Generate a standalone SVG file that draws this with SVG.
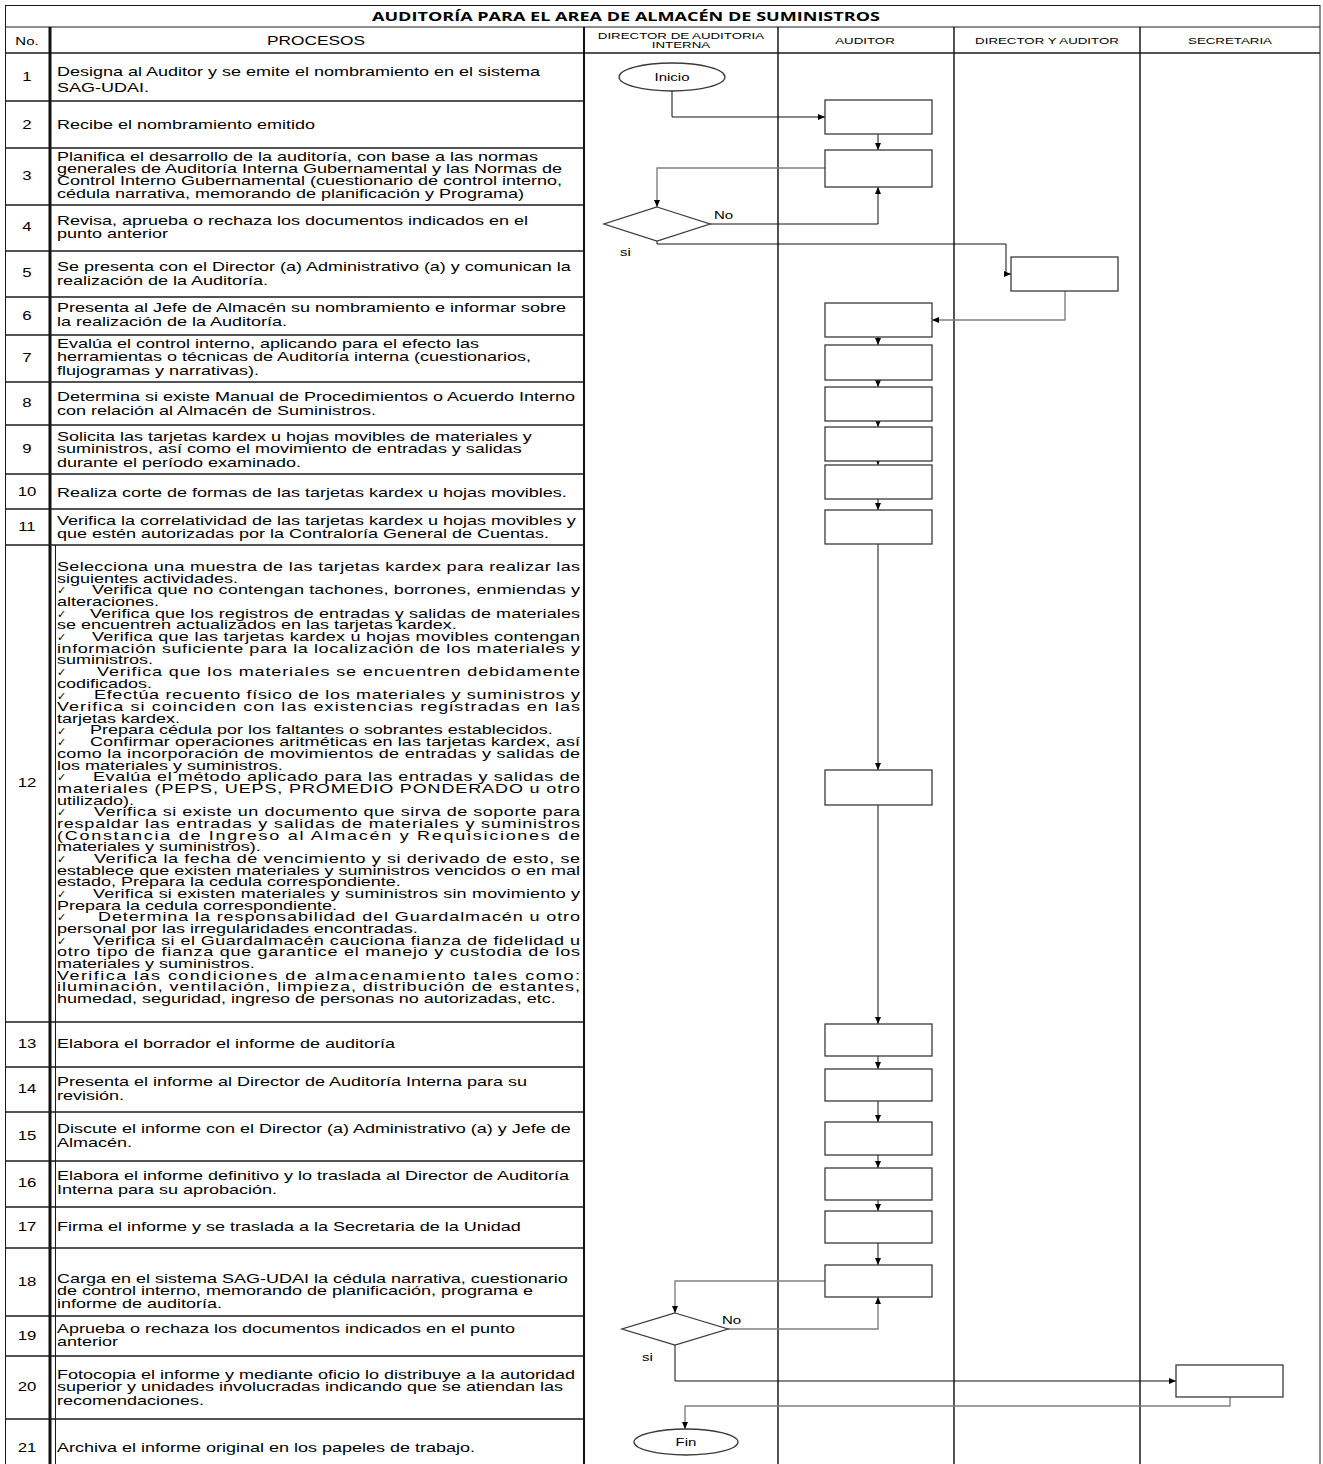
<svg xmlns="http://www.w3.org/2000/svg" width="1323" height="1464" viewBox="0 0 1323 1464">
  <style>
    .tx { font-family: "Liberation Sans", Arial, sans-serif; fill: #000; }
    .ttl { font-family: "Open Sans", "Liberation Sans", sans-serif; font-weight: 700; font-size: 13px; fill: #000; }
    .ck { font-family: "DejaVu Sans", "Noto Sans", sans-serif; font-size: 11px; fill: #000; }
    .mid { text-anchor: middle; }
    .grid { stroke: #1a1a1a; stroke-width: 1.5; fill: none; }
    .thin { stroke: #1a1a1a; stroke-width: 1; fill: none; }
    .box { fill: #fff; stroke: #3a3a3a; stroke-width: 1.3; }
    .cn { fill: none; stroke: #111; stroke-width: 1; }
    .cl { fill: none; stroke: #808080; stroke-width: 1.4; }
  </style>
  <defs>
    <marker id="ar" markerWidth="7" markerHeight="6" refX="7" refY="3" orient="auto" markerUnits="userSpaceOnUse">
      <path d="M0,0 L7,3 L0,6 z" fill="#000"/>
    </marker>
  </defs>

  <rect width="1323" height="1464" fill="#fff"/>

  <!-- table frame -->
  <g id="table">
    <rect x="5.5" y="5.5" width="1314.5" height="1470" class="thin"/>
    <line x1="5" y1="27" x2="1320" y2="27" class="thin"/>
    <line x1="5" y1="53" x2="1320" y2="53" class="grid"/>
    <!-- column separators -->
    <line x1="50" y1="27" x2="50" y2="1464" stroke="#111" stroke-width="3"/>
    <line x1="55.5" y1="545" x2="55.5" y2="1464" class="thin"/>
    <line x1="584" y1="27" x2="584" y2="1464" stroke="#111" stroke-width="2"/>
    <line x1="778" y1="27" x2="778" y2="1464" class="grid"/>
    <line x1="954" y1="27" x2="954" y2="1464" class="grid"/>
    <line x1="1140" y1="27" x2="1140" y2="1464" class="grid"/>
    <!-- row separators -->
    <g class="grid">
      <line x1="5" y1="101" x2="584" y2="101"/>
      <line x1="5" y1="148" x2="584" y2="148"/>
      <line x1="5" y1="205" x2="584" y2="205"/>
      <line x1="5" y1="251" x2="584" y2="251"/>
      <line x1="5" y1="297" x2="584" y2="297"/>
      <line x1="5" y1="335" x2="584" y2="335"/>
      <line x1="5" y1="382" x2="584" y2="382"/>
      <line x1="5" y1="425" x2="584" y2="425"/>
      <line x1="5" y1="474" x2="584" y2="474"/>
      <line x1="5" y1="509" x2="584" y2="509"/>
      <line x1="5" y1="545" x2="584" y2="545"/>
      <line x1="5" y1="1022" x2="584" y2="1022"/>
      <line x1="5" y1="1067" x2="584" y2="1067"/>
      <line x1="5" y1="1112" x2="584" y2="1112"/>
      <line x1="5" y1="1161" x2="584" y2="1161"/>
      <line x1="5" y1="1207" x2="584" y2="1207"/>
      <line x1="5" y1="1248" x2="584" y2="1248"/>
      <line x1="5" y1="1316" x2="584" y2="1316"/>
      <line x1="5" y1="1356" x2="584" y2="1356"/>
      <line x1="5" y1="1419" x2="584" y2="1419"/>
    </g>
  </g>

  <!-- title and column headers -->
  <g id="headers">
    <text class="ttl mid" x="626" y="21" textLength="508" lengthAdjust="spacingAndGlyphs">AUDITORÍA PARA EL AREA DE ALMACÉN DE SUMINISTROS</text>
    <g class="tx mid" font-size="11.5" transform="scale(1.3 1)">
      <text x="20.77" y="45">No.</text>
    </g>
    <g class="tx mid" font-size="12.5" transform="scale(1.385 1)">
      <text x="228.16" y="45">PROCESOS</text>
    </g>
    <g class="tx mid" font-size="9.5" transform="scale(1.4 1)">
      <text x="486.43" y="39">DIRECTOR DE AUDITORIA</text>
      <text x="486.43" y="48">INTERNA</text>
      <text x="617.86" y="44">AUDITOR</text>
      <text x="747.86" y="44">DIRECTOR Y AUDITOR</text>
      <text x="878.57" y="44">SECRETARIA</text>
    </g>
  </g>

  <!-- step numbers -->
  <g id="numbers" class="tx mid" font-size="12" transform="scale(1.4 1)">
    <text x="19.29" y="81">1</text>
    <text x="19.29" y="129">2</text>
    <text x="19.29" y="180">3</text>
    <text x="19.29" y="231">4</text>
    <text x="19.29" y="277">5</text>
    <text x="19.29" y="320">6</text>
    <text x="19.29" y="362">7</text>
    <text x="19.29" y="407">8</text>
    <text x="19.29" y="453">9</text>
    <text x="19.29" y="496">10</text>
    <text x="19.29" y="531">11</text>
    <text x="19.29" y="787">12</text>
    <text x="19.29" y="1048">13</text>
    <text x="19.29" y="1093">14</text>
    <text x="19.29" y="1140">15</text>
    <text x="19.29" y="1187">16</text>
    <text x="19.29" y="1231">17</text>
    <text x="19.29" y="1286">18</text>
    <text x="19.29" y="1340">19</text>
    <text x="19.29" y="1391">20</text>
    <text x="19.29" y="1452">21</text>
  </g>

  <!-- process descriptions -->
  <g id="procesos" class="tx" font-size="13" transform="scale(1.385 1)">
    <text x="41.16" y="76">Designa al Auditor y se emite el nombramiento en el sistema</text>
    <text x="41.16" y="92">SAG-UDAI.</text>
    <text x="41.16" y="129.5">Recibe el nombramiento emitido</text>
    <text x="41.16" y="161">Planifica el desarrollo de la auditoría, con base a las normas</text>
    <text x="41.16" y="173">generales de Auditoría Interna Gubernamental y las Normas de</text>
    <text x="41.16" y="185">Control Interno Gubernamental (cuestionario de control interno,</text>
    <text x="41.16" y="198">cédula narrativa, memorando de planificación y Programa)</text>
    <text x="41.16" y="225.5">Revisa,  aprueba o rechaza los documentos indicados en el</text>
    <text x="41.16" y="238">punto anterior</text>
    <text x="41.16" y="271.5">Se presenta con el Director (a) Administrativo (a) y comunican la</text>
    <text x="41.16" y="285.5">realización de la Auditoría.</text>
    <text x="41.16" y="312.5">Presenta al Jefe de Almacén su nombramiento e informar sobre</text>
    <text x="41.16" y="326.5">la realización de la Auditoría.</text>
    <text x="41.16" y="348.5">Evalúa el control interno, aplicando para el efecto las</text>
    <text x="41.16" y="361.5">herramientas o técnicas de Auditoría interna (cuestionarios,</text>
    <text x="41.16" y="375.5">flujogramas y narrativas).</text>
    <text x="41.16" y="401.5">Determina si existe Manual de Procedimientos o Acuerdo Interno</text>
    <text x="41.16" y="415.5">con relación al Almacén de Suministros.</text>
    <text x="41.16" y="441.5">Solicita  las tarjetas kardex u hojas movibles de materiales y</text>
    <text x="41.16" y="453.5">suministros, así como el movimiento de entradas y salidas</text>
    <text x="41.16" y="467.5">durante el período examinado.</text>
    <text x="41.16" y="497.5">Realiza corte de formas de las tarjetas kardex u hojas movibles.</text>
    <text x="41.16" y="525.5">Verifica la correlatividad de las tarjetas kardex  u hojas movibles y</text>
    <text x="41.16" y="538.5">que estén autorizadas por la Contraloría General de Cuentas.</text>
    <text x="41.16" y="1048.5">Elabora el borrador el informe de auditoría</text>
    <text x="41.16" y="1086.5">Presenta el informe al  Director de Auditoría Interna para su</text>
    <text x="41.16" y="1100.5">revisión.</text>
    <text x="41.16" y="1133.5">Discute el informe con el Director (a) Administrativo (a) y Jefe de</text>
    <text x="41.16" y="1147.5">Almacén.</text>
    <text x="41.16" y="1180.5">Elabora el informe definitivo y lo traslada al Director de Auditoría</text>
    <text x="41.16" y="1194.5">Interna para su aprobación.</text>
    <text x="41.16" y="1231.5">Firma el informe y se traslada a la Secretaria de la Unidad</text>
    <text x="41.16" y="1283">Carga en el sistema SAG-UDAI la cédula narrativa, cuestionario</text>
    <text x="41.16" y="1295.5">de control interno, memorando de planificación, programa e</text>
    <text x="41.16" y="1308.5">informe de auditoría.</text>
    <text x="41.16" y="1333.5">Aprueba o rechaza los documentos indicados en el punto</text>
    <text x="41.16" y="1346.5">anterior</text>
    <text x="41.16" y="1379.5">Fotocopia el informe y mediante oficio lo distribuye a la autoridad</text>
    <text x="41.16" y="1391.5">superior y unidades involucradas indicando que se atiendan las</text>
    <text x="41.16" y="1405.5">recomendaciones.</text>
    <text x="41.16" y="1452.5">Archiva el informe original en los papeles de trabajo.</text>
  </g>

  <!-- step 12 checklist (justified) -->
  <g id="paso12">
    <g class="ck">
      <text x="57" y="594.4">✓</text>
      <text x="57" y="617.7">✓</text>
      <text x="57" y="641.1">✓</text>
      <text x="57" y="676.1">✓</text>
      <text x="57" y="699.5">✓</text>
      <text x="57" y="734.5">✓</text>
      <text x="57" y="746.2">✓</text>
      <text x="57" y="781.2">✓</text>
      <text x="57" y="816.3">✓</text>
      <text x="57" y="863.0">✓</text>
      <text x="57" y="898.0">✓</text>
      <text x="57" y="921.4">✓</text>
      <text x="57" y="944.8">✓</text>
    </g>
    <g class="tx" font-size="12" transform="scale(1.5 1)">
      <text x="38" y="571.0" textLength="348.67" lengthAdjust="spacing">Selecciona una muestra de las tarjetas kardex para realizar las</text>
      <text x="38" y="582.7">siguientes actividades.</text>
      <text x="61.33" y="594.4" textLength="325.33" lengthAdjust="spacing">Verifica que no contengan tachones, borrones, enmiendas y</text>
      <text x="38" y="606.0">alteraciones.</text>
      <text x="60" y="617.7" textLength="326.67" lengthAdjust="spacing">Verifica que los registros de entradas y salidas de materiales</text>
      <text x="38" y="629.4">se encuentren actualizados en las tarjetas kardex.</text>
      <text x="61.33" y="641.1" textLength="325.33" lengthAdjust="spacing">Verifica que las tarjetas kardex u hojas movibles contengan</text>
      <text x="38" y="652.8" textLength="348.67" lengthAdjust="spacing">información suficiente para la localización de los materiales y</text>
      <text x="38" y="664.4">suministros.</text>
      <text x="64.67" y="676.1" textLength="322" lengthAdjust="spacing">Verifica que los materiales se encuentren debidamente</text>
      <text x="38" y="687.8">codificados.</text>
      <text x="62.67" y="699.5" textLength="324" lengthAdjust="spacing">Efectúa recuento físico de los materiales y suministros y</text>
      <text x="38" y="711.2" textLength="348.67" lengthAdjust="spacing">Verifica si coinciden con las existencias registradas en las</text>
      <text x="38" y="722.8">tarjetas kardex.</text>
      <text x="60" y="734.5">Prepara cédula por los faltantes o sobrantes establecidos.</text>
      <text x="60" y="746.2" textLength="326.67" lengthAdjust="spacing">Confirmar operaciones aritméticas en las tarjetas kardex, así</text>
      <text x="38" y="757.9" textLength="348.67" lengthAdjust="spacing">como la incorporación de movimientos de entradas y salidas de</text>
      <text x="38" y="769.6">los materiales y suministros.</text>
      <text x="62" y="781.2" textLength="324.67" lengthAdjust="spacing">Evalúa el método aplicado para las entradas y salidas de</text>
      <text x="38" y="792.9" textLength="348.67" lengthAdjust="spacing">materiales (PEPS, UEPS, PROMEDIO PONDERADO u otro</text>
      <text x="38" y="804.6">utilizado).</text>
      <text x="62.67" y="816.3" textLength="324" lengthAdjust="spacing">Verifica si existe un documento que sirva de soporte para</text>
      <text x="38" y="828.0" textLength="348.67" lengthAdjust="spacing">respaldar las entradas y salidas de materiales y suministros</text>
      <text x="38" y="839.6" textLength="348.67" lengthAdjust="spacing">(Constancia de Ingreso al Almacén y Requisiciones de</text>
      <text x="38" y="851.3">materiales y suministros).</text>
      <text x="62.67" y="863.0" textLength="324" lengthAdjust="spacing">Verifica la fecha de vencimiento y si derivado de esto, se</text>
      <text x="38" y="874.7" textLength="348.67" lengthAdjust="spacing">establece que existen materiales y suministros vencidos o en mal</text>
      <text x="38" y="886.4">estado, Prepara la cedula correspondiente.</text>
      <text x="62" y="898.0" textLength="324.67" lengthAdjust="spacing">Verifica si existen materiales y suministros sin movimiento y</text>
      <text x="38" y="909.7">Prepara la cedula correspondiente.</text>
      <text x="65.33" y="921.4" textLength="321.33" lengthAdjust="spacing">Determina la responsabilidad del Guardalmacén u otro</text>
      <text x="38" y="933.1">personal por las irregularidades encontradas.</text>
      <text x="62" y="944.8" textLength="324.67" lengthAdjust="spacing">Verifica si el Guardalmacén cauciona fianza de fidelidad u</text>
      <text x="38" y="956.4" textLength="348.67" lengthAdjust="spacing">otro tipo de fianza que garantice el manejo y custodia de los</text>
      <text x="38" y="968.1">materiales y suministros.</text>
      <text x="38" y="979.8" textLength="348.67" lengthAdjust="spacing">Verifica las condiciones de almacenamiento tales como:</text>
      <text x="38" y="991.5" textLength="348.67" lengthAdjust="spacing">iluminación, ventilación, limpieza, distribución de estantes,</text>
      <text x="38" y="1003.2">humedad, seguridad, ingreso de personas no autorizadas, etc.</text>
    </g>
  </g>

  <!-- connectors -->
  <g id="connectors">
    <path class="cn" d="M672,91 V117 H825" marker-end="url(#ar)"/>
    <path class="cn" d="M878,134 V150" marker-end="url(#ar)"/>
    <path class="cl" d="M825,168 H657 V207" marker-end="url(#ar)"/>
    <path class="cn" d="M710,224 H878 V187" marker-end="url(#ar)"/>
    <path class="cn" d="M657,241 V244 H1006 V274 H1011" marker-end="url(#ar)"/>
    <path class="cl" d="M1065,291 V320 H932" marker-end="url(#ar)"/>
    <path class="cn" d="M878,337 V345" marker-end="url(#ar)"/>
    <path class="cn" d="M878,380 V387" marker-end="url(#ar)"/>
    <path class="cn" d="M878,421 V427" marker-end="url(#ar)"/>
    <path class="cn" d="M878,461 V465" marker-end="url(#ar)"/>
    <path class="cn" d="M878,499 V510" marker-end="url(#ar)"/>
    <path class="cn" d="M878,544 V770" marker-end="url(#ar)"/>
    <path class="cn" d="M878,805 V1024" marker-end="url(#ar)"/>
    <path class="cn" d="M878,1056 V1069" marker-end="url(#ar)"/>
    <path class="cn" d="M878,1101 V1122" marker-end="url(#ar)"/>
    <path class="cn" d="M878,1155 V1168" marker-end="url(#ar)"/>
    <path class="cn" d="M878,1200 V1211" marker-end="url(#ar)"/>
    <path class="cn" d="M878,1243 V1265" marker-end="url(#ar)"/>
    <path class="cl" d="M825,1281 H675 V1313" marker-end="url(#ar)"/>
    <path class="cl" d="M728,1329 H878 V1297" marker-end="url(#ar)"/>
    <path class="cn" d="M675,1345 V1381 H1176" marker-end="url(#ar)"/>
    <path class="cl" d="M1230,1397 V1406 H685 V1429" marker-end="url(#ar)"/>
  </g>

  <!-- flow nodes -->
  <g id="inicio">
    <ellipse cx="672" cy="77" rx="53" ry="14" class="box"/>
    <text class="tx mid" font-size="10" transform="scale(1.5 1)" x="448" y="81">Inicio</text>
  </g>
  <g id="paso2"><rect x="825" y="100" width="107" height="34" class="box"/></g>
  <g id="paso3"><rect x="825" y="150" width="107" height="37" class="box"/></g>
  <g id="decision4">
    <polygon points="657,207 710,224 657,241 604,224" class="box"/>
    <text class="tx" font-size="10" transform="scale(1.5 1)" x="476" y="219">No</text>
    <text class="tx" font-size="10" transform="scale(1.5 1)" x="413.33" y="256">si</text>
  </g>
  <g id="paso5"><rect x="1011" y="257" width="107" height="34" class="box"/></g>
  <g id="paso6"><rect x="825" y="303" width="107" height="34" class="box"/></g>
  <g id="paso7"><rect x="825" y="345" width="107" height="35" class="box"/></g>
  <g id="paso8"><rect x="825" y="387" width="107" height="34" class="box"/></g>
  <g id="paso9"><rect x="825" y="427" width="107" height="34" class="box"/></g>
  <g id="paso10"><rect x="825" y="465" width="107" height="34" class="box"/></g>
  <g id="paso11"><rect x="825" y="510" width="107" height="34" class="box"/></g>
  <g id="paso12n"><rect x="825" y="770" width="107" height="35" class="box"/></g>
  <g id="paso13"><rect x="825" y="1024" width="107" height="32" class="box"/></g>
  <g id="paso14"><rect x="825" y="1069" width="107" height="32" class="box"/></g>
  <g id="paso15"><rect x="825" y="1122" width="107" height="33" class="box"/></g>
  <g id="paso16"><rect x="825" y="1168" width="107" height="32" class="box"/></g>
  <g id="paso17"><rect x="825" y="1211" width="107" height="32" class="box"/></g>
  <g id="paso18"><rect x="825" y="1265" width="107" height="32" class="box"/></g>
  <g id="decision19">
    <polygon points="675,1313 728,1329 675,1345 622,1329" class="box"/>
    <text class="tx" font-size="10" transform="scale(1.5 1)" x="481.33" y="1324">No</text>
    <text class="tx" font-size="10" transform="scale(1.5 1)" x="428" y="1361">si</text>
  </g>
  <g id="paso20"><rect x="1176" y="1365" width="107" height="32" class="box"/></g>
  <g id="fin">
    <ellipse cx="686" cy="1442" rx="52" ry="13" class="box"/>
    <text class="tx mid" font-size="10" transform="scale(1.5 1)" x="457.33" y="1446">Fin</text>
  </g>
</svg>
